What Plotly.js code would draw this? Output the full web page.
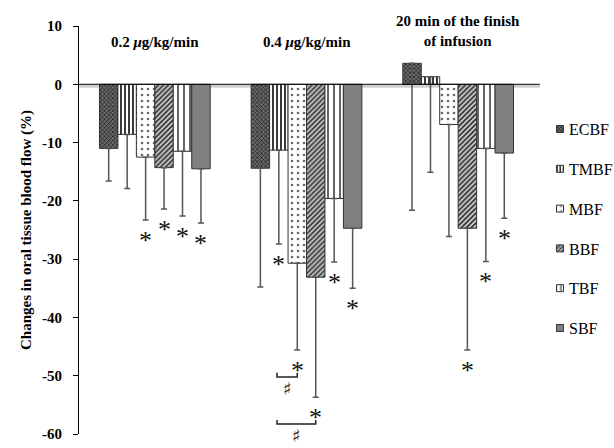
<!DOCTYPE html>
<html>
<head>
<meta charset="utf-8">
<script src="https://cdn.plot.ly/plotly-3.0.1.min.js"></script>
<style>
  html, body { margin: 0; padding: 0; background: #fff; }
  #chart { width: 614px; height: 448px; }
</style>
</head>
<body>
<div id="chart"></div>
<script>
// ---- data ----
const categories = ['0.2 <i>μ</i>g/kg/min', '0.4 <i>μ</i>g/kg/min', '20 min of the finish<br>of infusion'];
const seriesNames = ['ECBF', 'TMBF', 'MBF', 'BBF', 'TBF', 'SBF'];
const ECBF = [-11.0, -14.4, 3.6];
const TMBF = [-8.6, -11.3, 1.3];
const MBF  = [-12.5, -30.7, -6.9];
const BBF  = [-14.3, -33.1, -24.7];
const TBF  = [-11.5, -19.6, -11.0];
const SBF  = [-14.5, -24.7, -11.8];
// lower error (SD) of each bar
const ECBF_err = [5.6, 20.4, 25.2];
const TMBF_err = [9.3, 16.1, 16.4];
const MBF_err  = [10.8, 14.9, 19.2];
const BBF_err  = [7.1, 20.6, 20.9];
const TBF_err  = [11.1, 10.9, 19.4];
const SBF_err  = [9.3, 10.3, 11.2];
// significance vs baseline (*)
const ECBF_sig = [0, 0, 0];
const TMBF_sig = [0, 1, 0];
const MBF_sig  = [1, 1, 0];
const BBF_sig  = [1, 1, 1];
const TBF_sig  = [1, 1, 1];
const SBF_sig  = [1, 1, 1];
// between-parameter comparisons (#)
const hashGroup = [1, 1];
const hashFrom = ['TMBF', 'TMBF'];
const hashTo = ['MBF', 'BBF'];
const tickValues = [10, 0, -10, -20, -30, -40, -50, -60];
const tickLabels = ['10', '0', '-10', '-20', '-30', '-40', '-50', '-60'];
const yRange = [-60, 10];

// ---- style ----
const values = [ECBF, TMBF, MBF, BBF, TBF, SBF];
const errs = [ECBF_err, TMBF_err, MBF_err, BBF_err, TBF_err, SBF_err];
const sigs = [ECBF_sig, TMBF_sig, MBF_sig, BBF_sig, TBF_sig, SBF_sig];
const patterns = [
  {shape: 'x', bgcolor: '#6a6a6a', fgcolor: '#1a1a1a', size: 3, solidity: 0.4},
  {shape: '|', bgcolor: '#ffffff', fgcolor: '#222222', size: 4, solidity: 0.45},
  {shape: '.', bgcolor: '#ffffff', fgcolor: '#666666', size: 6, solidity: 0.15},
  {shape: '/', bgcolor: '#d0d0d0', fgcolor: '#333333', size: 3.5, solidity: 0.5},
  {shape: '|', bgcolor: '#ffffff', fgcolor: '#555555', size: 6, solidity: 0.3},
  {shape: '', bgcolor: '#808080', fgcolor: '#808080', size: 6, solidity: 0.3}
];
const fillColors = ['#6a6a6a', '#ffffff', '#ffffff', '#d0d0d0', '#ffffff', '#808080'];
const serif = 'Liberation Serif, Times New Roman, serif';

const xIdx = categories.map((c, i) => i);
const traces = seriesNames.map((name, s) => ({
  type: 'bar',
  name: name,
  x: xIdx,
  y: values[s],
  legendgroup: name,
  marker: {
    color: fillColors[s],
    line: {color: '#333333', width: 1},
    pattern: Object.assign({fillmode: 'replace'}, patterns[s])
  },
  error_y: {
    type: 'data', symmetric: false,
    array: values[s].map(() => 0),
    arrayminus: errs[s],
    color: '#555555', thickness: 1.5, width: 3
  },
  hoverinfo: 'skip'
}));

const bargap = 0.27;
const nSeries = seriesNames.length;
const barW = (1 - bargap) / nSeries;
function barX(group, s) { return group - (1 - bargap) / 2 + (s + 0.5) * barW; }
function toPaperY(v) { return (v - yRange[0]) / (yRange[1] - yRange[0]); }

const annotations = [];
// group titles
categories.forEach((c, g) => {
  const twoLine = c.indexOf('<br>') >= 0;
  annotations.push({
    x: g, y: twoLine ? 0.988 : 0.961, xref: 'x', yref: 'paper',
    text: '<b>' + c + '</b>', showarrow: false, xanchor: 'center', yanchor: 'middle',
    font: {family: serif, size: 15, color: '#000'}
  });
});
// asterisks
const starGap = 2.6;
const starY = {};
sigs.forEach((sg, s) => {
  sg.forEach((flag, g) => {
    const yEnd = values[s][g] - errs[s][g];
    starY[s + '_' + g] = yEnd - starGap;
    if (flag) {
      annotations.push({
        x: barX(g, s), y: yEnd - starGap, xref: 'x', yref: 'y',
        text: '*', showarrow: false, xanchor: 'center', yanchor: 'middle', yshift: -5,
        font: {family: serif, size: 26, color: '#111'}
      });
    }
  });
});
// brackets with #
const shapes = [];
hashGroup.forEach((g, k) => {
  const s0 = seriesNames.indexOf(hashFrom[k]);
  const s1 = seriesNames.indexOf(hashTo[k]);
  const x0 = barX(g, s0) - barW * 0.1, x1 = barX(g, s1);
  const yb = starY[s1 + '_' + g] - 2.0;
  shapes.push({
    type: 'path', xref: 'x', yref: 'y',
    path: `M${x0},${yb + 0.7} L${x0},${yb} L${x1},${yb} L${x1},${yb + 0.7}`,
    line: {color: '#222', width: 1.5}
  });
  annotations.push({
    x: (x0 + x1) / 2, y: toPaperY(yb - 2.0), xref: 'x', yref: 'paper',
    text: '<b>♯</b>', showarrow: false, xanchor: 'center', yanchor: 'middle',
    font: {family: 'DejaVu Sans, sans-serif', size: 18, color: '#3b2410'}
  });
});
// zero line with light shadow
shapes.unshift({type: 'line', xref: 'paper', yref: 'y', x0: 0, x1: 1.013, y0: -0.35, y1: -0.35,
  line: {color: '#cfcfcf', width: 3}, layer: 'below'});
shapes.push({type: 'line', xref: 'paper', yref: 'y', x0: 0, x1: 1.013, y0: 0, y1: 0,
  line: {color: '#000', width: 1}});

const layout = {
  width: 614, height: 448,
  margin: {l: 79, r: 80, t: 26, b: 14, autoexpand: false},
  paper_bgcolor: '#fff', plot_bgcolor: '#fff',
  barmode: 'group', bargap: bargap, bargroupgap: 0,
  showlegend: true,
  legend: {
    x: 0.989, y: 0.789, xanchor: 'left', yanchor: 'top',
    font: {family: serif, size: 16, color: '#000'},
    traceorder: 'grouped', tracegroupgap: 16,
    bgcolor: 'rgba(0,0,0,0)', itemclick: false
  },
  xaxis: {
    type: 'linear', range: [-0.5, 2.5], showticklabels: false, ticks: '',
    showgrid: false, zeroline: false, showline: false, fixedrange: true
  },
  yaxis: {
    range: yRange, tickvals: tickValues, ticktext: tickLabels,
    ticks: 'outside', ticklen: 5, tickcolor: '#000', ticklabelstandoff: 8,
    showline: true, linecolor: '#000', linewidth: 1,
    showgrid: false, zeroline: false, fixedrange: true,
    tickfont: {family: serif, size: 15, color: '#000', weight: 'bold'},
    title: {text: 'Changes in oral tissue blood flow (%)', standoff: 6,
      font: {family: serif, size: 15, color: '#000', weight: 'bold'}}
  },
  shapes: shapes,
  annotations: annotations
};

Plotly.newPlot('chart', traces, layout, {displayModeBar: false, staticPlot: true}).then(gd => {
  // smaller legend swatches with a small gap before the text, as in the original
  gd.querySelectorAll('.legend .legendpoints path').forEach(p => {
    p.setAttribute('d', 'M14.5,3.5H7.5V-3.5H14.5Z');
  });
});
</script>
</body>
</html>
